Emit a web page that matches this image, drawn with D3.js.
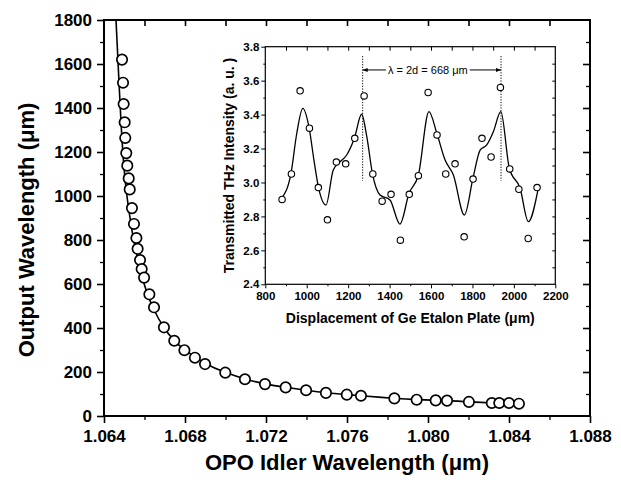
<!DOCTYPE html>
<html><head><meta charset="utf-8">
<script src="https://cdn.jsdelivr.net/npm/d3@7"></script>
<style>body{margin:0;background:#fff}text{font-family:"Liberation Sans",Arial,Helvetica,sans-serif}</style>
</head><body>
<script>
// ---- main chart data ----
const idlerX = [1.06489,1.06494,1.06497,1.06502,1.06505,1.06510,1.06515,1.06522,1.06527,1.06538,1.06548,1.06560,1.06566,1.06578,1.06586,1.06598,1.06624,1.06647,1.06696,1.06747,1.06797,1.06849,1.06899,1.06999,1.07096,1.07195,1.07297,1.07398,1.07496,1.07599,1.07669,1.07834,1.07944,1.08038,1.08094,1.08202,1.08315,1.08352,1.08400,1.08449];
const outputY = [1620,1515,1418,1335,1264,1195,1138,1080,1030,945,873,809,760,709,668,629,553,494,403,342,299,265,236,197,167,145,130,117,105,97,92,80,74,71,70,64,59,59,59,56];
const curveX = [1.064593,1.064741,1.064914,1.065086,1.065210,1.065432,1.065679,1.065877,1.066148,1.066395,1.066914,1.067457,1.06797,1.06899,1.06999,1.07096,1.07195,1.07297,1.07398,1.07496,1.07599,1.07669,1.07834,1.07944,1.08094,1.08202,1.08315,1.08449];
const curveY = [1800,1515,1195,1030,945,809,709,629,553,494,403,342,299,236,197,167,145,130,117,105,97,92,80,74,70,64,59,56];
const mainXTicks = [1.064,1.068,1.072,1.076,1.080,1.084,1.088];
const mainYTicks = [0,200,400,600,800,1000,1200,1400,1600,1800];

// ---- inset data ----
const dispX = [881,926,968,1013,1056,1100,1143,1188,1232,1277,1319,1364,1407,1452,1495,1539,1586,1629,1671,1716,1760,1803,1846,1890,1935,1980,2024,2069,2112];
const thzY  = [2.90,3.05,3.54,3.32,2.97,2.78,3.12,3.11,3.26,3.51,3.05,2.89,2.93,2.66,2.93,3.04,3.53,3.28,3.05,3.11,2.68,3.02,3.26,3.15,3.56,3.08,2.96,2.67,2.97];
const fitX = [879,924,952,981,1012,1035,1056,1093,1128,1161,1193,1230,1265,1290,1317,1354,1402,1450,1494,1539,1590,1628,1668,1708,1761,1804,1837,1869,1901,1937,1978,2030,2070,2118];
const fitY = [2.907,3.054,3.29,3.437,3.319,3.13,2.975,2.867,3.074,3.122,3.162,3.260,3.402,3.270,3.054,2.926,2.897,2.755,2.936,3.044,3.417,3.290,3.132,3.044,2.808,3.034,3.191,3.221,3.299,3.417,3.084,2.966,2.769,2.966];
const insetXTicks = [800,1000,1200,1400,1600,1800,2000,2200];
const insetYTicks = [2.4,2.6,2.8,3.0,3.2,3.4,3.6,3.8];
const etalonMarks = [1270,1938];
const annotText = "λ = 2d = 668 μm";

const W = 621, H = 482;
const svg = d3.select("body").append("svg").attr("width", W).attr("height", H);
svg.append("rect").attr("width", W).attr("height", H).attr("fill", "#fff");

// ---------- main ----------
const x = d3.scaleLinear().domain([1.064, 1.088]).range([104, 590]);
const y = d3.scaleLinear().domain([0, 1800]).range([416, 20]);
const xMinor = d3.range(0, 13).map(i => 1.064 + i * 0.002).filter((v, i) => i % 2 === 1);
const yMinor = d3.range(0, 18).map(i => 100 + i * 200).filter(v => v < 1800);
const xAll = d3.range(1, 12).map(i => 1.064 + i * 0.002);

function styleAxis(g, fs, sw) {
  g.select(".domain").remove();
  g.selectAll("line").attr("stroke", "#000").attr("stroke-width", sw);
  g.selectAll("text").attr("fill", "#000").style("font-size", fs + "px").style("font-weight", "bold");
}

svg.append("g").attr("transform", "translate(0,416)")
  .call(d3.axisBottom(x).tickValues(mainXTicks).tickSize(7).tickPadding(7).tickFormat(d3.format(".3f")))
  .call(g => styleAxis(g, 17, 1.6));
svg.append("g").attr("transform", "translate(0,416)")
  .call(d3.axisBottom(x).tickValues(xMinor).tickSize(4).tickFormat(""))
  .call(g => styleAxis(g, 17, 1.3));
svg.append("g").attr("transform", "translate(104,0)")
  .call(d3.axisLeft(y).tickValues(mainYTicks).tickSize(7).tickPadding(5).tickFormat(d3.format("d")))
  .call(g => styleAxis(g, 17, 1.6));
svg.append("g").attr("transform", "translate(104,0)")
  .call(d3.axisLeft(y).tickValues(yMinor).tickSize(4).tickFormat(""))
  .call(g => styleAxis(g, 17, 1.3));
svg.append("g").attr("transform", "translate(0,20)")
  .call(d3.axisTop(x).tickValues(xAll).tickSize(-6).tickFormat(""))
  .call(g => styleAxis(g, 17, 1.6));
svg.append("g").attr("transform", "translate(590,0)")
  .call(d3.axisRight(y).tickValues(mainYTicks.slice(1, -1)).tickSize(-7).tickFormat(""))
  .call(g => styleAxis(g, 17, 1.6));
svg.append("g").attr("transform", "translate(590,0)")
  .call(d3.axisRight(y).tickValues(yMinor).tickSize(-4).tickFormat(""))
  .call(g => styleAxis(g, 17, 1.3));

svg.append("rect").attr("x", x(1.064)).attr("y", y(1800))
  .attr("width", x(1.088) - x(1.064)).attr("height", y(0) - y(1800))
  .attr("fill", "none").attr("stroke", "#000").attr("stroke-width", 2);

const curvePts = curveX.map((v, i) => [v, curveY[i]]);
svg.append("path").datum(curvePts)
  .attr("d", d3.line().x(d => x(d[0])).y(d => y(d[1])).curve(d3.curveBasis))
  .attr("fill", "none").attr("stroke", "#000").attr("stroke-width", 1.6);

svg.append("g").selectAll("circle").data(idlerX.map((v, i) => [v, outputY[i]])).join("circle")
  .attr("cx", d => x(d[0])).attr("cy", d => y(d[1])).attr("r", 5.2)
  .attr("fill", "#fff").attr("stroke", "#000").attr("stroke-width", 1.7);

svg.append("text").attr("x", 347).attr("y", 470).attr("text-anchor", "middle")
  .style("font-size", "22px").style("font-weight", "bold").text("OPO Idler Wavelength (μm)");
svg.append("text").attr("transform", "translate(34,230) rotate(-90)").attr("text-anchor", "middle")
  .style("font-size", "22px").style("font-weight", "bold").text("Output Wavelength (μm)");

// ---------- inset ----------
const ix = d3.scaleLinear().domain([800, 2200]).range([265.3, 555.3]);
const iy = d3.scaleLinear().domain([2.4, 3.8]).range([284.3, 46.7]);
const ixMinor = d3.range(900, 2200, 200);
const iyMinor = d3.range(0, 7).map(i => 2.5 + i * 0.2);
const ixAll = d3.range(900, 2200, 100);
const iyAll = d3.range(1, 14).map(i => 2.4 + i * 0.1);

svg.append("rect").attr("x", ix(800)).attr("y", iy(3.8))
  .attr("width", ix(2200) - ix(800)).attr("height", iy(2.4) - iy(3.8))
  .attr("fill", "#fff").attr("stroke", "none");

svg.append("g").attr("transform", `translate(0,${iy(2.4)})`)
  .call(d3.axisBottom(ix).tickValues(insetXTicks).tickSize(4).tickPadding(4).tickFormat(d3.format("d")))
  .call(g => styleAxis(g, 11.5, 1));
svg.append("g").attr("transform", `translate(0,${iy(2.4)})`)
  .call(d3.axisBottom(ix).tickValues(ixMinor).tickSize(2).tickFormat(""))
  .call(g => styleAxis(g, 11.5, 1));
svg.append("g").attr("transform", `translate(${ix(800)},0)`)
  .call(d3.axisLeft(iy).tickValues(insetYTicks).tickSize(4).tickPadding(2).tickFormat(d3.format(".1f")))
  .call(g => styleAxis(g, 11.5, 1));
svg.append("g").attr("transform", `translate(${ix(800)},0)`)
  .call(d3.axisLeft(iy).tickValues(iyMinor).tickSize(2).tickFormat(""))
  .call(g => styleAxis(g, 11.5, 1));
svg.append("g").attr("transform", `translate(0,${iy(3.8)})`)
  .call(d3.axisTop(ix).tickValues(ixAll).tickSize(-4).tickFormat(""))
  .call(g => styleAxis(g, 11.5, 1));
svg.append("g").attr("transform", `translate(${ix(2200)},0)`)
  .call(d3.axisRight(iy).tickValues(iyAll).tickSize(-3).tickFormat(""))
  .call(g => styleAxis(g, 11.5, 1));

svg.append("rect").attr("x", ix(800)).attr("y", iy(3.8))
  .attr("width", ix(2200) - ix(800)).attr("height", iy(2.4) - iy(3.8))
  .attr("fill", "none").attr("stroke", "#000").attr("stroke-width", 1.2);

// dotted markers
svg.append("g").selectAll("line").data(etalonMarks).join("line")
  .attr("x1", d => ix(d)).attr("x2", d => ix(d))
  .attr("y1", iy(3.745)).attr("y2", iy(3.01))
  .attr("stroke", "#000").attr("stroke-width", 1).attr("stroke-dasharray", "1.2,1.5");

const fitPts = fitX.map((v, i) => [v, fitY[i]]);
svg.append("path").datum(fitPts)
  .attr("d", d3.line().x(d => ix(d[0])).y(d => iy(d[1])).curve(d3.curveMonotoneX))
  .attr("fill", "none").attr("stroke", "#000").attr("stroke-width", 1.3);

svg.append("g").selectAll("circle").data(dispX.map((v, i) => [v, thzY[i]])).join("circle")
  .attr("cx", d => ix(d[0])).attr("cy", d => iy(d[1])).attr("r", 3.2)
  .attr("fill", "#fff").attr("stroke", "#000").attr("stroke-width", 1.1);

// annotation
const ay = iy(3.663);
const aL = ix(etalonMarks[0]), aR = ix(etalonMarks[1]);
const at = svg.append("text").attr("x", (aL + aR) / 2 - 4).attr("y", ay + 3.8).attr("text-anchor", "middle")
  .style("font-size", "11px").text(annotText);
const bb = at.node().getBBox();
svg.append("line").attr("x1", aL).attr("x2", bb.x - 2).attr("y1", ay).attr("y2", ay).attr("stroke", "#000").attr("stroke-width", 1);
svg.append("line").attr("x1", bb.x + bb.width + 2).attr("x2", aR).attr("y1", ay).attr("y2", ay).attr("stroke", "#000").attr("stroke-width", 1);
svg.append("path").attr("d", `M${aL},${ay} l5,-2 l0,4 z`).attr("fill", "#000");
svg.append("path").attr("d", `M${aR},${ay} l-5,-2 l0,4 z`).attr("fill", "#000");

svg.append("text").attr("x", (ix(800) + ix(2200)) / 2).attr("y", 323).attr("text-anchor", "middle")
  .style("font-size", "14px").style("font-weight", "bold").text("Displacement of Ge Etalon Plate (μm)");
svg.append("text").attr("transform", `translate(234,${(iy(2.4) + iy(3.8)) / 2}) rotate(-90)`).attr("text-anchor", "middle")
  .style("font-size", "14px").style("font-weight", "bold").text("Transmitted THz Intensity (a. u. )");
</script>
</body></html>
